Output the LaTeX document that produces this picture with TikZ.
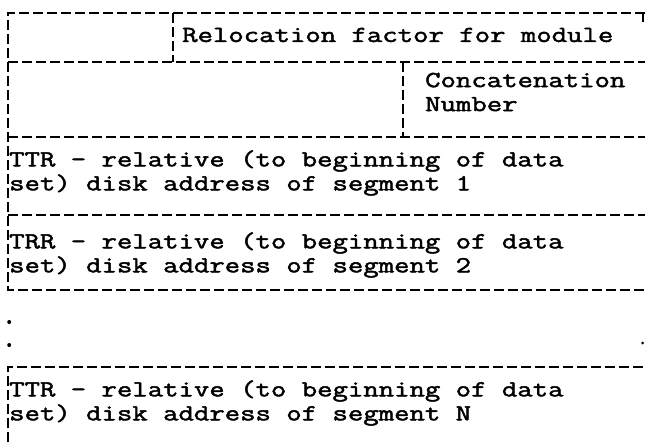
\documentclass[tikz,border=0pt]{standalone}
\usepackage{fontspec}
\setmonofont{Latin Modern Mono}[FakeStretch=1.30, FakeBold=2]

\begin{document}
\begin{tikzpicture}[
				x=1pt, y=-1pt,
				every node/.style={
						font=\ttfamily\fontsize{23}{24}\selectfont,
						inner sep=0pt, anchor=west, align=left,
					},
				rule/.style={line width=1.8pt, dash pattern=on 10pt off 4pt},
				dot/.style={fill, circle, inner sep=0pt, minimum size=4pt},]
			\useasboundingbox (0,0) rectangle (645,442);
			% outer frame of the first four rows
			\draw [rule] (645,13) -- (8,13) -- (8,290) -- (645,290);
			\draw [rule] (643,13) -- (643,22);
			\foreach \y in {62,137,215} {
					\draw [rule] (8,\y) -- (645,\y);
				}
			\draw [rule] (173,13) -- (173,62);
			\draw [rule] (403,62) -- (403,137);
			% last entry
			\draw [rule] (8,442) -- (8,367) -- (645,367);
			\node (reloc) at (182,35) {Relocation factor for module};
			\node (concat) at (425,92) {Concatenation\\Number};
			\node (seg1) at (9,173) {TTR - relative (to beginning of data\\set) disk address of segment 1};
			\node (seg2) at (9,255) {TRR - relative (to beginning of data\\set) disk address of segment 2};
			\node (segN) at (9,403) {TTR - relative (to beginning of data\\set) disk address of segment N};
			\node [dot] (d1) at (7,322) {};
			\node [dot] (d2) at (7,345) {};
			\node [dot, minimum size=3pt] (d3) at (641,343) {};
		\end{tikzpicture}
\end{document}
